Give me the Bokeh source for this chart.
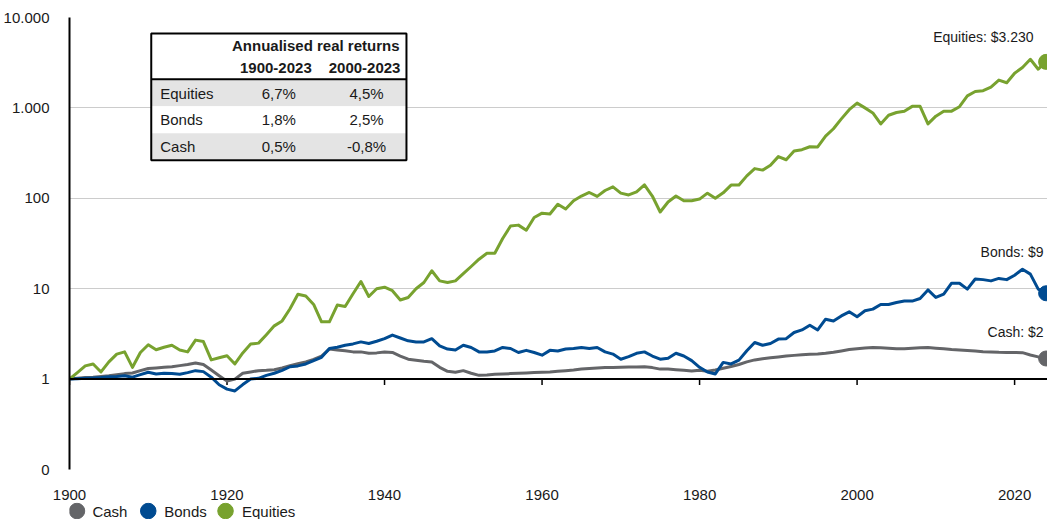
from bokeh.plotting import figure
from bokeh.models import Range1d, FixedTicker, Span
from bokeh.layouts import column
from bokeh.core.properties import value
from bokeh.embed import file_html
from bokeh.resources import INLINE

# ---------------- data ----------------
years = list(range(1900, 2025))

equities = [
    1.00, 1.18, 1.40, 1.47, 1.20, 1.55, 1.89, 2.00, 1.35, 1.97,
    2.40, 2.11, 2.25, 2.37, 2.10, 2.00, 2.70, 2.60, 1.63, 1.72,
    1.81, 1.47, 1.95, 2.44, 2.50, 3.10, 3.88, 4.40, 6.00, 8.70,
    8.30, 6.70, 4.30, 4.30, 6.60, 6.35, 8.80, 12.0, 8.20, 10.0,
    10.4, 9.50, 7.50, 8.00, 10.0, 11.7, 15.8, 12.2, 11.7, 12.2,
    14.7, 17.6, 21.2, 24.7, 24.7, 35.9, 49.4, 50.5, 44.3, 61.3,
    68.5, 67.0, 86.0, 76.0, 94.0, 106, 116, 105, 122, 134,
    114, 109, 118, 141, 106, 70.6, 91.0, 106, 94.0, 94.0,
    98.0, 114, 100, 115, 140, 140, 177, 213, 205, 232,
    289, 267, 333, 345, 372, 370, 487, 588, 756, 955,
    1130, 1000, 880, 665, 830, 890, 920, 1040, 1040, 665,
    810, 920, 920, 1030, 1360, 1520, 1550, 1700, 2030, 1900,
    2420, 2800, 3450, 2680, 3230,
]

bonds = [
    1.00, 1.01, 1.02, 1.03, 1.04, 1.06, 1.07, 1.09, 1.05, 1.12,
    1.19, 1.14, 1.16, 1.15, 1.13, 1.18, 1.24, 1.21, 1.05, 0.865,
    0.775, 0.74, 0.87, 1.00, 1.02, 1.10, 1.16, 1.25, 1.37, 1.40,
    1.47, 1.60, 1.74, 2.18, 2.25, 2.37, 2.45, 2.58, 2.48, 2.62,
    2.80, 3.07, 2.85, 2.65, 2.58, 2.58, 2.80, 2.33, 2.15, 2.10,
    2.37, 2.24, 2.00, 2.00, 2.05, 2.24, 2.18, 1.97, 2.08, 1.97,
    1.84, 2.08, 2.05, 2.15, 2.18, 2.24, 2.18, 2.24, 2.00, 1.89,
    1.66, 1.77, 1.93, 2.00, 1.80, 1.66, 1.70, 1.93, 1.80, 1.60,
    1.35, 1.20, 1.14, 1.53, 1.47, 1.62, 2.06, 2.54, 2.37, 2.48,
    2.77, 2.80, 3.28, 3.50, 3.95, 3.50, 4.60, 4.40, 5.00, 5.55,
    4.90, 5.70, 5.94, 6.70, 6.70, 7.05, 7.30, 7.30, 7.80, 9.70,
    8.00, 8.70, 11.5, 11.5, 9.90, 12.8, 12.6, 12.2, 13.0, 12.6,
    14.1, 16.4, 14.5, 9.90, 8.90,
]

cash = [
    1.00, 1.02, 1.04, 1.05, 1.07, 1.09, 1.12, 1.15, 1.17, 1.24,
    1.31, 1.33, 1.35, 1.37, 1.41, 1.45, 1.51, 1.45, 1.26, 1.09,
    0.95, 1.00, 1.16, 1.20, 1.24, 1.25, 1.27, 1.33, 1.41, 1.48,
    1.55, 1.65, 1.80, 2.15, 2.10, 2.06, 2.00, 2.00, 1.93, 1.95,
    2.00, 1.97, 1.80, 1.66, 1.62, 1.58, 1.55, 1.35, 1.22, 1.19,
    1.24, 1.16, 1.10, 1.11, 1.13, 1.14, 1.15, 1.16, 1.17, 1.18,
    1.19, 1.20, 1.22, 1.24, 1.26, 1.29, 1.31, 1.33, 1.34, 1.34,
    1.35, 1.36, 1.36, 1.37, 1.34, 1.29, 1.29, 1.27, 1.25, 1.23,
    1.25, 1.22, 1.26, 1.32, 1.38, 1.45, 1.55, 1.63, 1.68, 1.72,
    1.76, 1.80, 1.83, 1.86, 1.88, 1.89, 1.93, 1.98, 2.05, 2.12,
    2.17, 2.21, 2.24, 2.22, 2.19, 2.16, 2.16, 2.19, 2.22, 2.24,
    2.20, 2.16, 2.12, 2.10, 2.07, 2.04, 2.01, 2.00, 1.98, 1.97,
    1.97, 1.96, 1.85, 1.76, 1.69,
]

series_names = ["Cash", "Bonds", "Equities"]
end_labels = ["Cash: $2", "Bonds: $9", "Equities: $3.230"]

x_ticks = [1900, 1920, 1940, 1960, 1980, 2000, 2020]
y_ticks = [0.1, 1, 10, 100, 1000, 10000]
y_tick_labels = ["0", "1", "10", "100", "1.000", "10.000"]

table_title = "Annualised real returns"
table_periods = ["1900-2023", "2000-2023"]
table_assets = ["Equities", "Bonds", "Cash"]
table_p1 = ["6,7%", "1,8%", "0,5%"]
table_p2 = ["4,5%", "2,5%", "-0,8%"]

# ---------------- style ----------------
FONT = "Liberation Sans"
TXT = "#1a1a1a"
COLORS = ["#646568", "#004b91", "#78a22f"]

# geometry in figure px
W = 1047
H_MAIN = 502
H_LEG = 17
FR_LEFT, FR_TOP, FR_BOTTOM = 66, 17, 470
PX_PER_YEAR = 7.9
PX_PER_DEC = (FR_BOTTOM - FR_TOP) / 5.0
FR_RIGHT = W


def xd(px):
    return 1900 + (px - FR_LEFT) / PX_PER_YEAR


def yd(py):
    return 10 ** (-1 + (FR_BOTTOM - py) / PX_PER_DEC)


p = figure(width=W, height=H_MAIN, y_axis_type="log",
           x_range=Range1d(1900, xd(FR_RIGHT)),
           y_range=Range1d(0.1, 10000),
           output_backend="svg", toolbar_location=None,
           min_border_left=FR_LEFT, min_border_right=0,
           min_border_top=FR_TOP, min_border_bottom=H_MAIN - FR_BOTTOM)
p.outline_line_color = None

# axes
p.xgrid.grid_line_color = None
p.ygrid.grid_line_color = "#cccccc"
p.ygrid.grid_line_width = 1
p.yaxis.ticker = FixedTicker(ticks=y_ticks)
p.yaxis.major_label_overrides = {t: l for t, l in zip(y_ticks, y_tick_labels)}
p.yaxis.axis_line_color = "black"
p.yaxis.axis_line_width = 2
p.yaxis.major_tick_line_color = None
p.yaxis.minor_tick_line_color = None
p.yaxis.major_label_standoff = 14
p.xaxis.ticker = FixedTicker(ticks=x_ticks)
p.xaxis.axis_line_color = None
p.xaxis.major_tick_line_color = None
p.xaxis.minor_tick_line_color = None
p.xaxis.major_label_standoff = 14
for ax in (p.xaxis, p.yaxis):
    ax.major_label_text_font = FONT
    ax.major_label_text_font_size = "15px"
    ax.major_label_text_color = TXT

# baseline at 1 with tick marks
p.add_layout(Span(location=1, dimension="width", line_color="black", line_width=2))
p.segment(x0=x_ticks, y0=[1] * len(x_ticks), x1=x_ticks,
          y1=[10 ** (-6 / PX_PER_DEC)] * len(x_ticks), line_color="black", line_width=1.5)

# series
series_vals = [cash, bonds, equities]
for vals, col in zip(series_vals, COLORS):
    p.line(years, vals, line_color=col, line_width=3, line_join="round")
    p.scatter([years[-1]], [vals[-1]], marker="circle", size=15, fill_color=col, line_color=col)

# end labels
label_off = [(-2.5, -26), (-2.5, -41), (-12.5, -24.5)]
for vals, lab, (dx, dy) in zip(series_vals, end_labels, label_off):
    p.text(x=[years[-1]], y=[vals[-1]], text=[lab], x_offset=dx, y_offset=dy,
           text_align="right", text_baseline="middle", text_font=value(FONT),
           text_font_size="14px", text_color=TXT)

# table
T_L, T_R, T_T, T_B = 148, 404, 33, 160
p.quad(left=[xd(T_L)], right=[xd(T_R)], top=[yd(T_T)], bottom=[yd(T_B)],
       fill_color="white", line_color=None)
band_tops = [80, 106, 133]
band_bots = [106, 133, 159]
band_cols = ["#e4e4e4", "white", "#e4e4e4"]
p.quad(left=[xd(T_L)] * 3, right=[xd(T_R)] * 3,
       top=[yd(v) for v in band_tops], bottom=[yd(v) for v in band_bots],
       fill_color=band_cols, line_color=None)
p.quad(left=[xd(T_L)], right=[xd(T_R)], top=[yd(T_T)], bottom=[yd(T_B)],
       fill_color=None, line_color="black", line_width=2)
p.segment(x0=[xd(T_L)], y0=[yd(79)], x1=[xd(T_R)], y1=[yd(79)], line_color="black", line_width=2)

p.text(x=[xd(313)], y=[yd(45)], text=[table_title], text_align="center", text_baseline="middle",
       text_font=value(FONT), text_font_size="15px", text_font_style="bold", text_color=TXT)
p.text(x=[xd(273), xd(362)], y=[yd(68), yd(68)], text=table_periods, text_align="center",
       text_baseline="middle", text_font=value(FONT), text_font_size="15px",
       text_font_style="bold", text_color=TXT)
row_y = [yd(93), yd(119), yd(146)]
p.text(x=[xd(157)] * 3, y=row_y, text=table_assets, text_align="left", text_baseline="middle",
       text_font=value(FONT), text_font_size="15px", text_color=TXT)
p.text(x=[xd(276)] * 3, y=row_y, text=table_p1, text_align="center", text_baseline="middle",
       text_font=value(FONT), text_font_size="15px", text_color=TXT)
p.text(x=[xd(364)] * 3, y=row_y, text=table_p2, text_align="center", text_baseline="middle",
       text_font=value(FONT), text_font_size="15px", text_color=TXT)

# legend strip: own small figure whose frame is aligned with the main frame (px units)
leg = figure(width=W, height=H_LEG, x_range=Range1d(FR_LEFT, FR_RIGHT), y_range=Range1d(0, H_LEG),
             output_backend="svg", toolbar_location=None,
             x_axis_location=None, y_axis_location=None,
             min_border_left=FR_LEFT, min_border_right=0,
             min_border_top=0, min_border_bottom=0)
leg.outline_line_color = None
leg.xgrid.visible = False
leg.ygrid.visible = False
leg_dot_x = [73.5, 145, 222.5]
leg_txt_x = [89, 161, 239]
leg.scatter(leg_dot_x, [H_LEG / 2] * 3, marker="circle", size=15.5, fill_color=COLORS, line_color=COLORS)
leg.text(leg_txt_x, [H_LEG / 2] * 3, text=series_names, text_align="left", text_baseline="middle",
         text_font=value(FONT), text_font_size="15px", text_color=TXT)

layout = column(p, leg, spacing=0)
open("out.html", "w").write(file_html(layout, INLINE))
